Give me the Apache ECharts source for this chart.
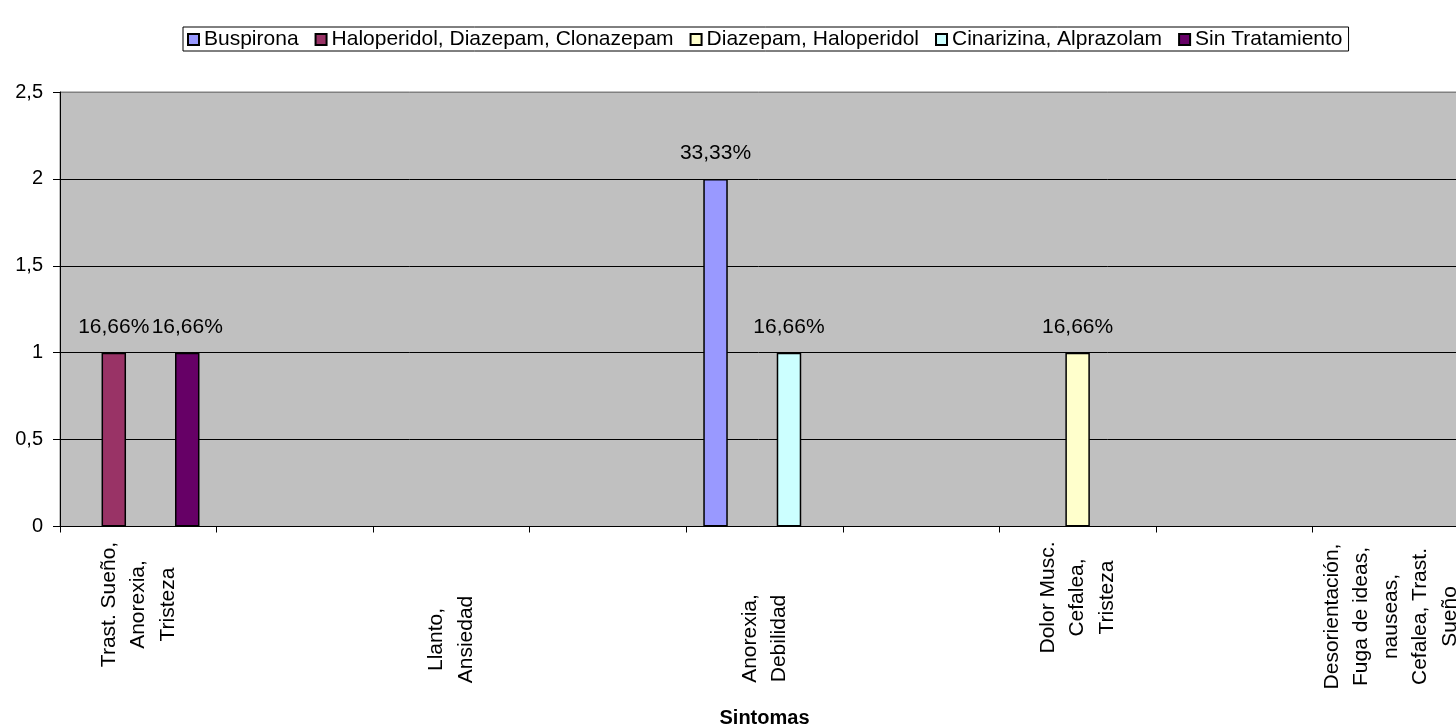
<!DOCTYPE html>
<html>
<head>
<meta charset="utf-8">
<script src="https://cdn.jsdelivr.net/npm/echarts@6/dist/echarts.min.js"></script>
<style>
  html, body { margin: 0; padding: 0; background: #ffffff; }
  #chart { width: 1456px; height: 727px; }
</style>
</head>
<body>
<div id="chart"></div>
<script>
// Symptom groups (every other slot on the axis carries no label)
const categories = [
  'Trast. Sueño,\nAnorexia,\nTristeza',
  '',
  'Llanto,\nAnsiedad',
  '',
  'Anorexia,\nDebilidad',
  '',
  'Dolor Musc.\nCefalea,\nTristeza',
  '',
  'Desorientación,\nFuga de ideas,\nnauseas,\nCefalea, Trast.\nSueño'
];

// Treatments (legend order)
const seriesNames = [
  'Buspirona',
  'Haloperidol, Diazepam, Clonazepam',
  'Diazepam, Haloperidol',
  'Cinarizina, Alprazolam',
  'Sin Tratamiento'
];

// Number of patients per symptom group and treatment
const buspirona       = [null, null, null, null, 2, null, null, null, null];
const haloperidolDC   = [1, null, null, null, null, null, null, null, null];
const diazepamHalo    = [null, null, null, null, null, null, 1, null, null];
const cinarizinaAlpra = [null, null, null, null, 1, null, null, null, null];
const sinTratamiento  = [1, null, null, null, null, null, null, null, null];

// Y axis ticks
const yTicks = [0, 0.5, 1, 1.5, 2, 2.5];

const seriesValues = [buspirona, haloperidolDC, diazepamHalo, cinarizinaAlpra, sinTratamiento];
const seriesColors = ['#9999FF', '#993366', '#FFFFCC', '#CCFFFF', '#660066'];

// Total patients, used for the percentage labels
const total = seriesValues.reduce((s, arr) => s + arr.reduce((a, v) => a + (v || 0), 0), 0);

function pct(v) {
  const p = Math.floor(v / total * 10000) / 100;
  return p.toFixed(2).replace('.', ',') + '%';
}

const FONT = 'Liberation Sans, Arial, sans-serif';

// Length of the text block of each rotated category label; lines are centred in it
const labelBlock = [126, 0, 196, 0, 194, 0, 112, 0, 150];

const labelRich = {};
labelBlock.forEach((w, i) => {
  labelRich['c' + i] = {
    width: w,
    align: 'center',
    fontFamily: FONT,
    fontSize: 21,
    lineHeight: 29.5,
    color: '#000'
  };
});

const chart = echarts.init(document.getElementById('chart'), null, { renderer: 'canvas' });

chart.setOption({
  backgroundColor: '#ffffff',
  animation: false,
  textStyle: { fontFamily: FONT, color: '#000' },
  legend: {
    left: 183,
    top: 27,
    orient: 'horizontal',
    itemWidth: 11,
    itemHeight: 11,
    itemGap: 16,
    padding: [2, 6, 1, 4],
    borderColor: '#000',
    borderWidth: 1,
    backgroundColor: '#ffffff',
    icon: 'rect',
    textStyle: { fontFamily: FONT, fontSize: 21, color: '#000' },
    data: seriesNames
  },
  grid: {
    left: 60,
    right: -13,
    top: 92,
    bottom: 200.5,
    containLabel: false,
    outerBoundsMode: 'none',
    show: true,
    backgroundColor: '#C0C0C0',
    borderColor: '#808080',
    borderWidth: 1
  },
  xAxis: {
    type: 'category',
    data: categories,
    boundaryGap: true,
    name: 'Sintomas',
    nameLocation: 'middle',
    nameGap: 182,
    nameMoveOverlap: false,
    nameTextStyle: { fontFamily: FONT, fontSize: 20, fontWeight: 'bold', color: '#000' },
    axisLine: { show: true, lineStyle: { color: '#000', width: 1 } },
    axisTick: { show: true, length: 6, lineStyle: { color: '#000' } },
    axisLabel: {
      interval: 0,
      rotate: 90,
      margin: 15,
      fontFamily: FONT,
      fontSize: 21,
      lineHeight: 29.5,
      color: '#000',
      formatter: (value, index) => value
        ? value.split('\n').map(line => '{c' + index + '|' + line + '}').join('\n')
        : '',
      rich: labelRich
    },
    splitLine: { show: false }
  },
  yAxis: {
    type: 'value',
    min: yTicks[0],
    max: yTicks[yTicks.length - 1],
    interval: yTicks[1] - yTicks[0],
    axisLine: { show: true, lineStyle: { color: '#000', width: 1 } },
    axisTick: { show: true, length: 7, lineStyle: { color: '#000' } },
    axisLabel: {
      margin: 17,
      fontFamily: FONT,
      fontSize: 20,
      color: '#000',
      formatter: v => String(v).replace('.', ',')
    },
    splitLine: {
      show: true,
      lineStyle: { color: ['#000', '#000', '#000', '#000', '#000', '#808080'], width: 1 }
    }
  },
  series: seriesNames.map((name, i) => ({
    name: name,
    type: 'bar',
    data: seriesValues[i],
    barGap: '0%',
    barCategoryGap: '21.8%',
    itemStyle: { color: seriesColors[i], borderColor: '#000', borderWidth: 1.5 },
    label: {
      show: true,
      position: 'top',
      distance: 15,
      fontFamily: FONT,
      fontSize: 21,
      color: '#000',
      formatter: p => (p.value == null ? '' : pct(p.value))
    }
  }))
});
</script>
</body>
</html>
